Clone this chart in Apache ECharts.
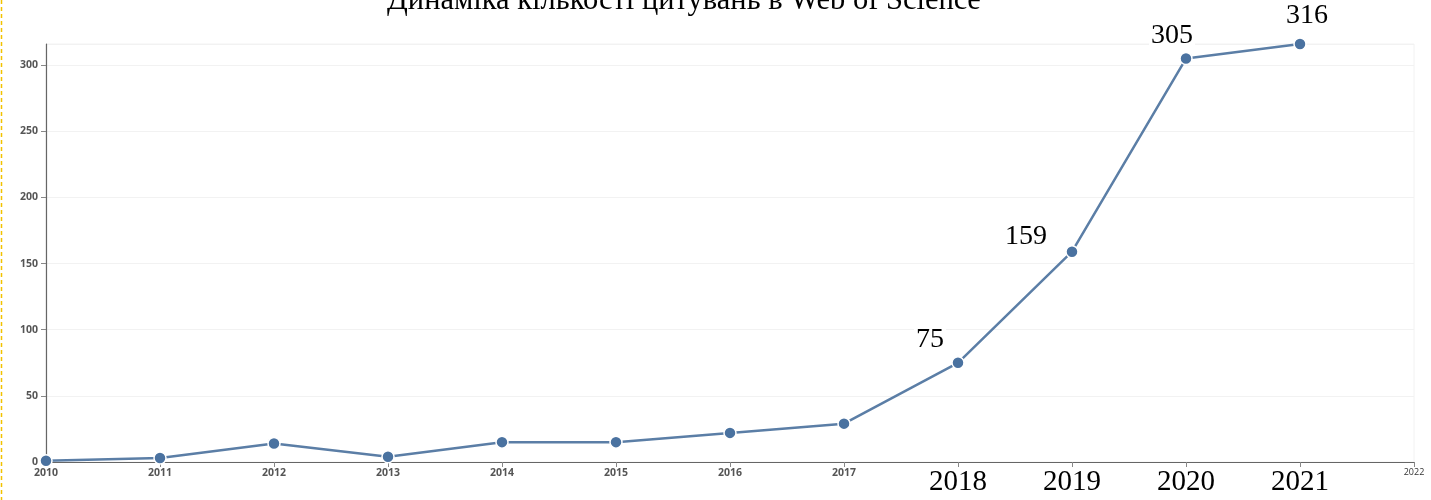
<!DOCTYPE html>
<html>
<head>
<meta charset="utf-8">
<script src="https://cdn.jsdelivr.net/npm/echarts@6/dist/echarts.min.js"></script>
<style>html,body{margin:0;padding:0;background:#fff;}#c{width:1431px;height:500px;}</style>
</head>
<body>
<div id="c"></div>
<script>
var titleText = 'Динаміка кількості цитувань в Web of Science';
var years = [2010, 2011, 2012, 2013, 2014, 2015, 2016, 2017, 2018, 2019, 2020, 2021];
var citations = [1, 3, 14, 4, 15, 15, 22, 29, 75, 159, 305, 316];
var labeledYears = [2018, 2019, 2020, 2021];
var bigTickYears = [2018, 2019, 2020, 2021];

var labelOffsets = {2018: [-28, -23], 2019: [-46, -15], 2020: [-14, -23], 2021: [7, -28]};

var chart = echarts.init(document.getElementById('c'));
var seriesData = years.map(function (y, i) {
  var item = { value: [y, citations[i]] };
  if (labeledYears.indexOf(y) >= 0) {
    item.label = { show: true, offset: labelOffsets[y] };
  }
  return item;
});

chart.setOption({
  animation: false,
  backgroundColor: '#fff',
  title: {
    text: titleText,
    left: 382,
    top: -20,
    textStyle: { fontFamily: 'Liberation Serif', fontSize: 30.5, fontWeight: 'normal', color: '#000' }
  },
  graphic: [{
    type: 'line',
    shape: { x1: 1.5, y1: 0, x2: 1.5, y2: 500 },
    style: { stroke: '#f2c200', lineWidth: 1.5, lineDash: [4, 3] }
  }],
  grid: { left: 46, right: 17, top: 44, bottom: 38, show: true, borderColor: '#f2f2f2', borderWidth: 1 },
  xAxis: {
    type: 'value',
    min: 2010,
    max: 2022,
    interval: 1,
    axisLine: { lineStyle: { color: '#666', width: 1.2 } },
    axisTick: { show: true, length: 5, lineStyle: { color: '#888' } },
    splitLine: { show: false },
    axisLabel: {
      margin: 6,
      formatter: function (v) {
        if (bigTickYears.indexOf(v) >= 0) return '{big|' + v + '}';
        if (v === 2022) return '{end|' + v + '}';
        return '{small|' + v + '}';
      },
      rich: {
        small: { fontFamily: 'Open Sans', fontSize: 10.5, fontWeight: 'bold', color: '#555' },
        end: { fontFamily: 'Open Sans', fontSize: 9, color: '#333' },
        big: { fontFamily: 'Liberation Serif', fontSize: 29, color: '#000' }
      }
    }
  },
  yAxis: {
    type: 'value',
    min: 0,
    max: 316,
    interval: 50,
    axisLine: { show: true, lineStyle: { color: '#666', width: 1.2 } },
    axisTick: { show: true, length: 5, lineStyle: { color: '#888' } },
    splitLine: { show: true, lineStyle: { color: '#f2f2f2', width: 1 } },
    axisLabel: {
      showMaxLabel: false,
      margin: 8,
      fontFamily: 'Open Sans', fontSize: 10.5, fontWeight: 'bold', color: '#555'
    }
  },
  series: [{
    type: 'line',
    data: seriesData,
    symbol: 'circle',
    symbolSize: 12,
    lineStyle: { color: '#5b7ea6', width: 2.5 },
    itemStyle: { color: '#4a72a0', borderColor: '#fff', borderWidth: 1.5 },
    label: {
      show: false,
      position: 'inside',
      formatter: function (p) { return p.value[1]; },
      fontFamily: 'Liberation Serif', fontSize: 28, color: '#000',
      backgroundColor: '#fff', padding: [0, 2]
    }
  }]
});
</script>
</body>
</html>
